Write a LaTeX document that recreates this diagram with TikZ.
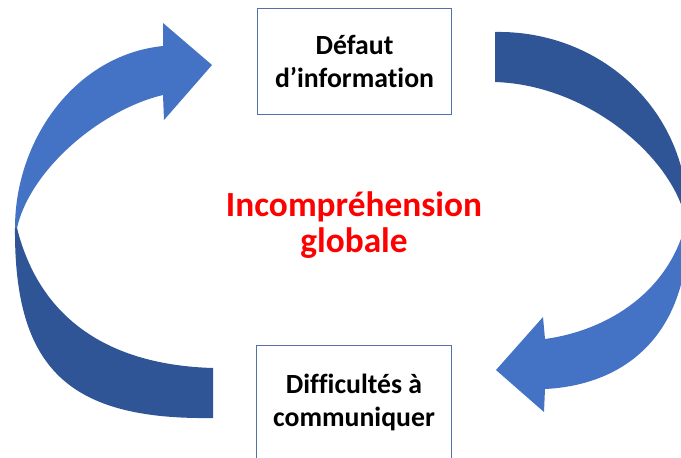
\documentclass[tikz,border=0pt]{standalone}
\usepackage{fontspec}
\setmainfont[Ligatures=NoCommon]{Carlito}
\definecolor{bleuclair}{HTML}{4472C4}
\definecolor{bleufonce}{HTML}{2F5597}
\definecolor{bordbleu}{HTML}{5470A8}
\definecolor{rougevif}{HTML}{FF0000}
\tikzset{
  etape/.style={draw=bordbleu, line width=0.9pt, fill=white, minimum width=146pt,
    align=center, font=\fontsize{20.8}{24.8}\selectfont\bfseries},
  centre/.style={align=center, text=rougevif, font=\fontsize{26.5}{26.5}\selectfont\bfseries}
}
\begin{document}
\begin{tikzpicture}[x=0.75pt, y=-0.75pt]
    % Cadre de l'image
    \clip (0,0) rectangle (681,457);

    % Flèche de gauche : partie arrière (foncée)
    \fill[bleufonce] (213,368) -- (213,418)
        .. controls (70,420) and (14,370) .. (15,228)
        -- (17,228)
        .. controls (40,320) and (110,365) .. (213,368) -- cycle;

    % Flèche de gauche : partie avant avec la pointe
    \fill[bleuclair] (15,228)
        .. controls (15,140) and (75,55) .. (163,46)
        -- (163,23) -- (212,65) -- (164,120) -- (163,95)
        .. controls (100,110) and (30,170) .. (17,228) -- cycle;

    % Flèche de droite : partie arrière (foncée)
    \fill[bleufonce] (495,32)
        .. controls (600,30) and (690,110) .. (688,222)
        -- (686,222)
        .. controls (675,160) and (590,85) .. (495,82) -- cycle;

    % Flèche de droite : partie avant avec la pointe
    \fill[bleuclair] (686,222)
        .. controls (670,290) and (610,330) .. (545,339)
        -- (543,317) -- (496,370) -- (544,412) -- (545,389)
        .. controls (625,385) and (690,335) .. (688,222) -- cycle;

    % Les deux étapes du cycle
    \node[etape, minimum height=80pt] (defaut) at (354.5,61.5) {Défaut\\d’information};
    \node[etape, minimum height=86pt] (difficultes) at (354,402.5) {Difficultés à\\communiquer};

    % Texte central
    \node[centre] (incomprehension) at (354,225) {Incompréhension\\globale};

\end{tikzpicture}
\end{document}
